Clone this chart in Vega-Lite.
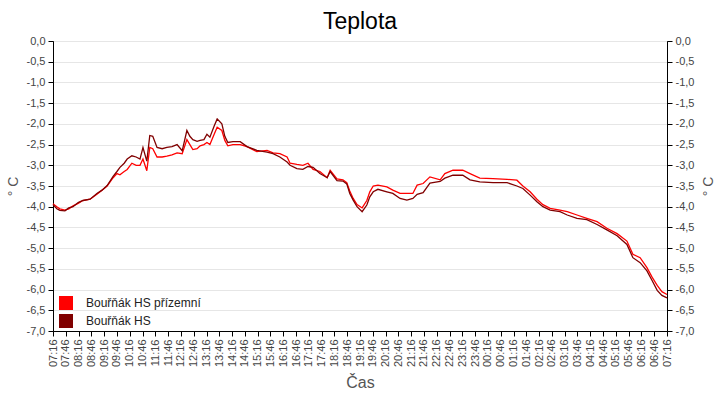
{
  "$schema": "https://vega.github.io/schema/vega-lite/v6.json",
  "width": 614,
  "height": 290,
  "autosize": "none",
  "padding": {"left": 53, "top": 41, "right": 53, "bottom": 69},
  "background": "white",
  "title": {"text": "Teplota", "fontSize": 23, "font": "Liberation Sans", "fontWeight": "normal", "color": "black", "offset": 1},
  "config": {
    "font": "Liberation Sans",
    "view": {"stroke": "black", "strokeWidth": 1},
    "axis": {"labelFont": "Liberation Sans", "labelFontSize": 11, "labelColor": "#444", "titleFont": "Liberation Sans", "titleFontWeight": "normal", "titleColor": "#555", "domainColor": "black", "tickColor": "black", "tickSize": 5, "gridColor": "#e6e6e6"},
    "axisX": {"labelOverlap": false}
  },
  "datasets": {
    "prizemni": [
      {"t":"2024-01-01T07:16","v":-3.93},{"t":"2024-01-01T07:25","v":-4.0},{"t":"2024-01-01T07:32","v":-4.05},{"t":"2024-01-01T07:44","v":-4.08},{"t":"2024-01-01T07:53","v":-4.05},{"t":"2024-01-01T08:03","v":-3.98},{"t":"2024-01-01T08:15","v":-3.92},{"t":"2024-01-01T08:26","v":-3.85},{"t":"2024-01-01T08:43","v":-3.82},{"t":"2024-01-01T08:59","v":-3.7},{"t":"2024-01-01T09:11","v":-3.6},{"t":"2024-01-01T09:23","v":-3.5},{"t":"2024-01-01T09:37","v":-3.3},{"t":"2024-01-01T09:46","v":-3.2},{"t":"2024-01-01T09:53","v":-3.23},{"t":"2024-01-01T10:03","v":-3.15},{"t":"2024-01-01T10:10","v":-3.1},{"t":"2024-01-01T10:21","v":-2.95},{"t":"2024-01-01T10:31","v":-3.0},{"t":"2024-01-01T10:40","v":-3.0},{"t":"2024-01-01T10:47","v":-2.85},{"t":"2024-01-01T10:56","v":-3.13},{"t":"2024-01-01T11:03","v":-2.57},{"t":"2024-01-01T11:10","v":-2.6},{"t":"2024-01-01T11:20","v":-2.8},{"t":"2024-01-01T11:32","v":-2.8},{"t":"2024-01-01T11:43","v":-2.78},{"t":"2024-01-01T11:55","v":-2.75},{"t":"2024-01-01T12:07","v":-2.7},{"t":"2024-01-01T12:19","v":-2.72},{"t":"2024-01-01T12:30","v":-2.38},{"t":"2024-01-01T12:37","v":-2.5},{"t":"2024-01-01T12:44","v":-2.62},{"t":"2024-01-01T12:54","v":-2.6},{"t":"2024-01-01T13:01","v":-2.53},{"t":"2024-01-01T13:10","v":-2.5},{"t":"2024-01-01T13:17","v":-2.45},{"t":"2024-01-01T13:24","v":-2.5},{"t":"2024-01-01T13:34","v":-2.25},{"t":"2024-01-01T13:41","v":-2.08},{"t":"2024-01-01T13:52","v":-2.16},{"t":"2024-01-01T13:59","v":-2.4},{"t":"2024-01-01T14:06","v":-2.53},{"t":"2024-01-01T14:18","v":-2.5},{"t":"2024-01-01T14:35","v":-2.5},{"t":"2024-01-01T14:51","v":-2.55},{"t":"2024-01-01T15:14","v":-2.67},{"t":"2024-01-01T15:38","v":-2.64},{"t":"2024-01-01T15:52","v":-2.7},{"t":"2024-01-01T16:08","v":-2.72},{"t":"2024-01-01T16:25","v":-2.8},{"t":"2024-01-01T16:32","v":-2.95},{"t":"2024-01-01T16:48","v":-2.98},{"t":"2024-01-01T17:02","v":-3.0},{"t":"2024-01-01T17:14","v":-2.95},{"t":"2024-01-01T17:26","v":-3.1},{"t":"2024-01-01T17:42","v":-3.15},{"t":"2024-01-01T17:59","v":-3.3},{"t":"2024-01-01T18:06","v":-3.12},{"t":"2024-01-01T18:22","v":-3.33},{"t":"2024-01-01T18:36","v":-3.35},{"t":"2024-01-01T18:45","v":-3.42},{"t":"2024-01-01T18:52","v":-3.62},{"t":"2024-01-01T19:00","v":-3.8},{"t":"2024-01-01T19:09","v":-3.95},{"t":"2024-01-01T19:21","v":-4.03},{"t":"2024-01-01T19:32","v":-3.85},{"t":"2024-01-01T19:39","v":-3.64},{"t":"2024-01-01T19:47","v":-3.5},{"t":"2024-01-01T19:58","v":-3.48},{"t":"2024-01-01T20:19","v":-3.52},{"t":"2024-01-01T20:33","v":-3.6},{"t":"2024-01-01T20:50","v":-3.68},{"t":"2024-01-01T21:06","v":-3.68},{"t":"2024-01-01T21:20","v":-3.68},{"t":"2024-01-01T21:30","v":-3.48},{"t":"2024-01-01T21:44","v":-3.44},{"t":"2024-01-01T22:00","v":-3.28},{"t":"2024-01-01T22:24","v":-3.35},{"t":"2024-01-01T22:35","v":-3.2},{"t":"2024-01-01T22:54","v":-3.12},{"t":"2024-01-01T23:17","v":-3.12},{"t":"2024-01-01T23:34","v":-3.2},{"t":"2024-01-01T23:57","v":-3.31},{"t":"2024-01-02T00:28","v":-3.32},{"t":"2024-01-02T01:01","v":-3.34},{"t":"2024-01-02T01:24","v":-3.36},{"t":"2024-01-02T01:38","v":-3.5},{"t":"2024-01-02T01:55","v":-3.64},{"t":"2024-01-02T02:11","v":-3.82},{"t":"2024-01-02T02:25","v":-3.95},{"t":"2024-01-02T02:42","v":-4.04},{"t":"2024-01-02T03:05","v":-4.08},{"t":"2024-01-02T03:22","v":-4.12},{"t":"2024-01-02T03:45","v":-4.2},{"t":"2024-01-02T04:08","v":-4.28},{"t":"2024-01-02T04:32","v":-4.36},{"t":"2024-01-02T04:55","v":-4.52},{"t":"2024-01-02T05:19","v":-4.65},{"t":"2024-01-02T05:42","v":-4.83},{"t":"2024-01-02T05:56","v":-5.15},{"t":"2024-01-02T06:13","v":-5.23},{"t":"2024-01-02T06:29","v":-5.47},{"t":"2024-01-02T06:41","v":-5.7},{"t":"2024-01-02T06:53","v":-5.9},{"t":"2024-01-02T07:04","v":-6.05},{"t":"2024-01-02T07:16","v":-6.12}
    ],
    "hs": [
      {"t":"2024-01-01T07:16","v":-3.95},{"t":"2024-01-01T07:25","v":-4.05},{"t":"2024-01-01T07:32","v":-4.09},{"t":"2024-01-01T07:44","v":-4.1},{"t":"2024-01-01T07:53","v":-4.03},{"t":"2024-01-01T08:03","v":-4.0},{"t":"2024-01-01T08:15","v":-3.9},{"t":"2024-01-01T08:26","v":-3.85},{"t":"2024-01-01T08:43","v":-3.82},{"t":"2024-01-01T08:59","v":-3.68},{"t":"2024-01-01T09:11","v":-3.6},{"t":"2024-01-01T09:23","v":-3.49},{"t":"2024-01-01T09:37","v":-3.27},{"t":"2024-01-01T09:46","v":-3.15},{"t":"2024-01-01T09:53","v":-3.05},{"t":"2024-01-01T10:03","v":-2.95},{"t":"2024-01-01T10:10","v":-2.85},{"t":"2024-01-01T10:21","v":-2.77},{"t":"2024-01-01T10:31","v":-2.8},{"t":"2024-01-01T10:40","v":-2.85},{"t":"2024-01-01T10:47","v":-2.57},{"t":"2024-01-01T10:56","v":-2.9},{"t":"2024-01-01T11:03","v":-2.28},{"t":"2024-01-01T11:10","v":-2.3},{"t":"2024-01-01T11:20","v":-2.57},{"t":"2024-01-01T11:32","v":-2.6},{"t":"2024-01-01T11:43","v":-2.57},{"t":"2024-01-01T11:55","v":-2.55},{"t":"2024-01-01T12:07","v":-2.5},{"t":"2024-01-01T12:19","v":-2.65},{"t":"2024-01-01T12:30","v":-2.16},{"t":"2024-01-01T12:37","v":-2.3},{"t":"2024-01-01T12:44","v":-2.38},{"t":"2024-01-01T12:54","v":-2.42},{"t":"2024-01-01T13:01","v":-2.4},{"t":"2024-01-01T13:10","v":-2.38},{"t":"2024-01-01T13:17","v":-2.25},{"t":"2024-01-01T13:24","v":-2.32},{"t":"2024-01-01T13:34","v":-2.05},{"t":"2024-01-01T13:41","v":-1.88},{"t":"2024-01-01T13:52","v":-2.0},{"t":"2024-01-01T13:59","v":-2.3},{"t":"2024-01-01T14:06","v":-2.45},{"t":"2024-01-01T14:18","v":-2.43},{"t":"2024-01-01T14:35","v":-2.43},{"t":"2024-01-01T14:51","v":-2.55},{"t":"2024-01-01T15:14","v":-2.64},{"t":"2024-01-01T15:38","v":-2.68},{"t":"2024-01-01T15:52","v":-2.72},{"t":"2024-01-01T16:08","v":-2.8},{"t":"2024-01-01T16:25","v":-2.92},{"t":"2024-01-01T16:32","v":-3.0},{"t":"2024-01-01T16:48","v":-3.08},{"t":"2024-01-01T17:02","v":-3.1},{"t":"2024-01-01T17:14","v":-3.03},{"t":"2024-01-01T17:26","v":-3.05},{"t":"2024-01-01T17:42","v":-3.2},{"t":"2024-01-01T17:59","v":-3.3},{"t":"2024-01-01T18:06","v":-3.15},{"t":"2024-01-01T18:22","v":-3.37},{"t":"2024-01-01T18:36","v":-3.38},{"t":"2024-01-01T18:45","v":-3.45},{"t":"2024-01-01T18:52","v":-3.68},{"t":"2024-01-01T19:00","v":-3.84},{"t":"2024-01-01T19:09","v":-4.0},{"t":"2024-01-01T19:21","v":-4.12},{"t":"2024-01-01T19:32","v":-3.96},{"t":"2024-01-01T19:39","v":-3.76},{"t":"2024-01-01T19:47","v":-3.64},{"t":"2024-01-01T19:58","v":-3.58},{"t":"2024-01-01T20:19","v":-3.64},{"t":"2024-01-01T20:33","v":-3.68},{"t":"2024-01-01T20:50","v":-3.8},{"t":"2024-01-01T21:06","v":-3.84},{"t":"2024-01-01T21:20","v":-3.8},{"t":"2024-01-01T21:30","v":-3.7},{"t":"2024-01-01T21:44","v":-3.66},{"t":"2024-01-01T22:00","v":-3.43},{"t":"2024-01-01T22:24","v":-3.39},{"t":"2024-01-01T22:35","v":-3.31},{"t":"2024-01-01T22:54","v":-3.24},{"t":"2024-01-01T23:17","v":-3.24},{"t":"2024-01-01T23:34","v":-3.35},{"t":"2024-01-01T23:57","v":-3.4},{"t":"2024-01-02T00:28","v":-3.42},{"t":"2024-01-02T01:01","v":-3.42},{"t":"2024-01-02T01:24","v":-3.5},{"t":"2024-01-02T01:38","v":-3.56},{"t":"2024-01-02T01:55","v":-3.72},{"t":"2024-01-02T02:11","v":-3.88},{"t":"2024-01-02T02:25","v":-4.0},{"t":"2024-01-02T02:42","v":-4.08},{"t":"2024-01-02T03:05","v":-4.12},{"t":"2024-01-02T03:22","v":-4.2},{"t":"2024-01-02T03:45","v":-4.28},{"t":"2024-01-02T04:08","v":-4.31},{"t":"2024-01-02T04:32","v":-4.43},{"t":"2024-01-02T04:55","v":-4.56},{"t":"2024-01-02T05:19","v":-4.7},{"t":"2024-01-02T05:42","v":-4.91},{"t":"2024-01-02T05:56","v":-5.23},{"t":"2024-01-02T06:13","v":-5.35},{"t":"2024-01-02T06:29","v":-5.55},{"t":"2024-01-02T06:41","v":-5.78},{"t":"2024-01-02T06:53","v":-6.02},{"t":"2024-01-02T07:04","v":-6.14},{"t":"2024-01-02T07:16","v":-6.2}
    ]
  },
  "encoding": {
    "x": {"field": "t", "type": "temporal",
      "scale": {"domain": [{"year":2024,"month":1,"date":1,"hours":7,"minutes":16},{"year":2024,"month":1,"date":2,"hours":7,"minutes":16}]},
      "axis": {"title": "Čas", "titleFontSize": 16, "titlePadding": 8, "labelAngle": -90, "format": "%H:%M", "grid": false, "labelPadding": 3, "labelOverlap": false, "labelBound": false, "labelFlush": false,
        "values": [
          {"year":2024,"month":1,"date":1,"hours":7,"minutes":16},{"year":2024,"month":1,"date":1,"hours":7,"minutes":46},
          {"year":2024,"month":1,"date":1,"hours":8,"minutes":16},{"year":2024,"month":1,"date":1,"hours":8,"minutes":46},
          {"year":2024,"month":1,"date":1,"hours":9,"minutes":16},{"year":2024,"month":1,"date":1,"hours":9,"minutes":46},
          {"year":2024,"month":1,"date":1,"hours":10,"minutes":16},{"year":2024,"month":1,"date":1,"hours":10,"minutes":46},
          {"year":2024,"month":1,"date":1,"hours":11,"minutes":16},{"year":2024,"month":1,"date":1,"hours":11,"minutes":46},
          {"year":2024,"month":1,"date":1,"hours":12,"minutes":16},{"year":2024,"month":1,"date":1,"hours":12,"minutes":46},
          {"year":2024,"month":1,"date":1,"hours":13,"minutes":16},{"year":2024,"month":1,"date":1,"hours":13,"minutes":46},
          {"year":2024,"month":1,"date":1,"hours":14,"minutes":16},{"year":2024,"month":1,"date":1,"hours":14,"minutes":46},
          {"year":2024,"month":1,"date":1,"hours":15,"minutes":16},{"year":2024,"month":1,"date":1,"hours":15,"minutes":46},
          {"year":2024,"month":1,"date":1,"hours":16,"minutes":16},{"year":2024,"month":1,"date":1,"hours":16,"minutes":46},
          {"year":2024,"month":1,"date":1,"hours":17,"minutes":16},{"year":2024,"month":1,"date":1,"hours":17,"minutes":46},
          {"year":2024,"month":1,"date":1,"hours":18,"minutes":16},{"year":2024,"month":1,"date":1,"hours":18,"minutes":46},
          {"year":2024,"month":1,"date":1,"hours":19,"minutes":16},{"year":2024,"month":1,"date":1,"hours":19,"minutes":46},
          {"year":2024,"month":1,"date":1,"hours":20,"minutes":16},{"year":2024,"month":1,"date":1,"hours":20,"minutes":46},
          {"year":2024,"month":1,"date":1,"hours":21,"minutes":16},{"year":2024,"month":1,"date":1,"hours":21,"minutes":46},
          {"year":2024,"month":1,"date":1,"hours":22,"minutes":16},{"year":2024,"month":1,"date":1,"hours":22,"minutes":46},
          {"year":2024,"month":1,"date":1,"hours":23,"minutes":16},{"year":2024,"month":1,"date":1,"hours":23,"minutes":46},
          {"year":2024,"month":1,"date":2,"hours":0,"minutes":16},{"year":2024,"month":1,"date":2,"hours":0,"minutes":46},
          {"year":2024,"month":1,"date":2,"hours":1,"minutes":16},{"year":2024,"month":1,"date":2,"hours":1,"minutes":46},
          {"year":2024,"month":1,"date":2,"hours":2,"minutes":16},{"year":2024,"month":1,"date":2,"hours":2,"minutes":46},
          {"year":2024,"month":1,"date":2,"hours":3,"minutes":16},{"year":2024,"month":1,"date":2,"hours":3,"minutes":46},
          {"year":2024,"month":1,"date":2,"hours":4,"minutes":16},{"year":2024,"month":1,"date":2,"hours":4,"minutes":46},
          {"year":2024,"month":1,"date":2,"hours":5,"minutes":16},{"year":2024,"month":1,"date":2,"hours":5,"minutes":46},
          {"year":2024,"month":1,"date":2,"hours":6,"minutes":16},{"year":2024,"month":1,"date":2,"hours":6,"minutes":46},
          {"year":2024,"month":1,"date":2,"hours":7,"minutes":16}
        ]}}
  },
  "layer": [
    {
      "data": {"name": "prizemni"},
      "transform": [{"calculate": "'Bouřňák HS přízemní'", "as": "serie"}],
      "mark": {"type": "line", "strokeWidth": 1.3, "interpolate": "linear"},
      "encoding": {
        "y": {"field": "v", "type": "quantitative",
          "scale": {"domain": [-7, 0], "nice": false, "zero": false},
          "axis": {"title": "° C", "titleFontSize": 14, "orient": "left", "values": [0,-0.5,-1,-1.5,-2,-2.5,-3,-3.5,-4,-4.5,-5,-5.5,-6,-6.5,-7],
            "labelExpr": "replace(replace(format(datum.value, '.1f'), '.', ','), '−', '-')", "labelPadding": 3, "titlePadding": 6}},
        "color": {"field": "serie", "type": "nominal",
          "scale": {"domain": ["Bouřňák HS přízemní", "Bouřňák HS"], "range": ["#ff0000", "#800000"]},
          "legend": {"title": null, "orient": "none", "legendX": 6, "legendY": 255, "symbolType": "square", "symbolSize": 196, "symbolFillOpacity": 1, "symbolStrokeWidth": 0, "labelFontSize": 12, "labelColor": "#222", "labelOffset": 13, "rowPadding": 4, "padding": 0,
            "encode": {"symbols": {"update": {"fill": {"scale": "color", "field": "value"}, "fillOpacity": {"value": 1}}}}}}
      }
    },
    {
      "data": {"name": "hs"},
      "transform": [{"calculate": "'Bouřňák HS'", "as": "serie"}],
      "mark": {"type": "line", "strokeWidth": 1.3, "interpolate": "linear"},
      "encoding": {
        "y": {"field": "v", "type": "quantitative",
          "axis": {"title": "° C", "titleFontSize": 14, "titleAngle": -90, "titleBaseline": "top", "orient": "right", "grid": false, "values": [0,-0.5,-1,-1.5,-2,-2.5,-3,-3.5,-4,-4.5,-5,-5.5,-6,-6.5,-7],
            "labelExpr": "replace(replace(format(datum.value, '.1f'), '.', ','), '−', '-')", "labelPadding": 3, "titlePadding": 8}},
        "color": {"field": "serie", "type": "nominal"}
      }
    }
  ],
  "resolve": {"axis": {"y": "independent"}}
}
